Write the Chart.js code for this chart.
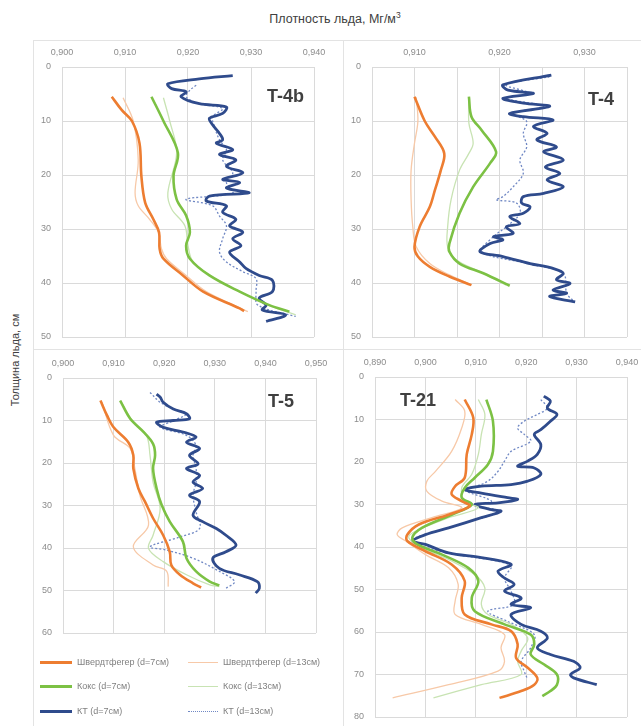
<!DOCTYPE html>
<html lang="ru">
<head>
<meta charset="UTF-8">
<title>Плотность льда</title>
<script src="https://cdn.jsdelivr.net/npm/chart.js"></script>
<style>
  body { margin: 0; background: #fff; font-family: "Liberation Sans", Arial, sans-serif; }
  #wrap { position: relative; width: 641px; height: 726px; overflow: hidden; background: #fff; }
  .box { position: absolute; border-left: 1px solid #e3e3e3; border-top: 1px solid #e3e3e3; box-sizing: border-box; }
  canvas { position: absolute; }
  .title { position: absolute; left: 0; width: 670px; top: 10px; text-align: center; font-size: 12.5px; color: #404040; }
  .title sup { font-size: 8.5px; }
  .ytitle { position: absolute; left: 15px; top: 360px; transform: translate(-50%, -50%) rotate(-90deg); white-space: nowrap; font-size: 11px; color: #404040; }
  .plab { position: absolute; font-weight: bold; font-size: 18px; color: #404040; }
  .leg { position: absolute; font-size: 9px; color: #808080; white-space: nowrap; }
</style>
</head>
<body>
<div id="wrap">
  <div class="box" style="left:33px;top:40px;width:310px;height:309px"></div>
  <div class="box" style="left:343px;top:40px;width:298px;height:309px"></div>
  <div class="box" style="left:33px;top:349px;width:310px;height:377px"></div>
  <div class="box" style="left:343px;top:349px;width:298px;height:377px"></div>

  <div class="title">Плотность льда, Мг/м<sup>3</sup></div>
  <div class="ytitle">Толщина льда, см</div>

  <canvas id="c1" width="310" height="309" style="left:33px;top:40px"></canvas>
  <canvas id="c2" width="298" height="309" style="left:343px;top:40px"></canvas>
  <canvas id="c3" width="310" height="377" style="left:33px;top:349px"></canvas>
  <canvas id="c4" width="298" height="377" style="left:343px;top:349px"></canvas>

  <div class="plab" style="left:267px;top:86px">T-4b</div>
  <div class="plab" style="left:588px;top:89px">T-4</div>
  <div class="plab" style="left:268px;top:391px">T-5</div>
  <div class="plab" style="left:400px;top:390px">T-21</div>

  <div id="legend"></div>
</div>

<script>
// series: [depth, density]
const seriesNames = ['Швердтфегер (d=7см)', 'Швердтфегер (d=13см)', 'Кокс (d=7см)', 'Кокс (d=13см)', 'КТ (d=7см)', 'КТ (d=13см)'];

// T-4b
const t4b_shv7 = [[5.5,0.9079],[8.0,0.9095],[10.0,0.9111],[14.1,0.9123],[20.2,0.9126],[25.1,0.9132],[28.2,0.9145],[30.6,0.9154],[33.7,0.9155],[35.5,0.9161],[38.6,0.9192],[41.6,0.9224],[44.7,0.9282],[45.2,0.9289]];
const t4b_shv13 = [[5.7,0.9097],[10.0,0.9113],[17.2,0.9121],[23.3,0.9116],[25.7,0.9121],[28.2,0.9139],[30.6,0.9153],[33.7,0.9158],[35.5,0.9166],[38.6,0.9197],[41.6,0.9229],[44.6,0.9282],[45.3,0.9295]];
const t4b_kok7 = [[5.5,0.9142],[10.0,0.9161],[15.9,0.9184],[20.2,0.9177],[24.5,0.9182],[27.5,0.9197],[30.6,0.9203],[33.1,0.9197],[35.5,0.9203],[38.6,0.9234],[41.6,0.9282],[44.1,0.9329],[45.3,0.9361]];
const t4b_kok13 = [[5.7,0.9161],[10.0,0.9171],[15.9,0.9182],[23.3,0.9168],[26.3,0.9174],[29.4,0.9195],[33.1,0.9200],[36.1,0.9208],[38.9,0.9239],[41.9,0.9287],[44.4,0.9334],[45.9,0.9371]];
const t4b_kt7 = [[1.6,0.9271],[2.2,0.9218],[3.1,0.9168],[4.0,0.9174],[4.6,0.9197],[5.5,0.9189],[6.8,0.9218],[7.4,0.9261],[8.6,0.9255],[9.5,0.9234],[10.7,0.9239],[12.3,0.9250],[13.5,0.9255],[14.1,0.9245],[15.3,0.9271],[16.2,0.9250],[17.2,0.9276],[18.4,0.9261],[19.6,0.9287],[20.8,0.9255],[21.4,0.9282],[22.4,0.9261],[23.3,0.9297],[23.9,0.9234],[24.8,0.9229],[25.7,0.9261],[26.9,0.9255],[28.2,0.9276],[29.4,0.9266],[30.6,0.9287],[31.8,0.9271],[33.1,0.9284],[34.3,0.9266],[36.1,0.9282],[37.3,0.9292],[38.6,0.9313],[39.5,0.9334],[41.6,0.9334],[42.8,0.9313],[44.1,0.9324],[45.0,0.9318],[45.9,0.9355],[47.1,0.9324]];
const t4b_kt13 = [[3.4,0.9213],[4.3,0.9203],[5.5,0.9197],[6.8,0.9218],[7.7,0.9255],[9.2,0.9239],[11.0,0.9242],[13.5,0.9250],[15.3,0.9261],[17.2,0.9255],[19.6,0.9271],[21.4,0.9261],[23.3,0.9271],[24.5,0.9197],[25.7,0.9239],[27.6,0.9250],[29.4,0.9261],[31.8,0.9255],[34.3,0.9250],[36.1,0.9261],[37.9,0.9287],[39.2,0.9308],[41.6,0.9308],[44.1,0.9311],[46.2,0.9371]];

// T-4
const t4_shv7 = [[5.5,0.9100],[10.0,0.9112],[12.9,0.9124],[16.0,0.9135],[19.1,0.9131],[22.8,0.9124],[25.9,0.9118],[29.6,0.9106],[33.3,0.9100],[35.1,0.9104],[37.0,0.9118],[38.8,0.9141],[40.4,0.9167]];
const t4_shv13 = [[5.6,0.9102],[10.0,0.9104],[14.1,0.9100],[19.1,0.9096],[24.6,0.9096],[29.6,0.9098],[33.3,0.9102],[36.4,0.9118],[38.5,0.9141],[40.2,0.9165]];
const t4_kok7 = [[5.5,0.9164],[9.2,0.9167],[11.7,0.9179],[15.7,0.9196],[17.8,0.9189],[22.2,0.9169],[27.1,0.9153],[32.7,0.9141],[34.2,0.9141],[36.4,0.9153],[38.2,0.9181],[40.5,0.9212]];
const t4_kok13 = [[5.6,0.9164],[10.4,0.9164],[14.1,0.9169],[16.0,0.9164],[19.1,0.9153],[24.6,0.9143],[29.6,0.9139],[33.3,0.9139],[35.7,0.9149],[37.9,0.9177],[40.4,0.9208]];
const t4_kt7 = [[1.5,0.9261],[3.3,0.9204],[4.3,0.9210],[4.9,0.9240],[5.8,0.9204],[6.7,0.9228],[7.3,0.9259],[8.6,0.9212],[9.2,0.9228],[9.8,0.9263],[11.0,0.9240],[12.3,0.9256],[13.5,0.9244],[14.8,0.9267],[15.7,0.9252],[17.2,0.9275],[18.5,0.9254],[19.7,0.9271],[20.9,0.9256],[22.2,0.9275],[23.4,0.9252],[24.0,0.9228],[25.2,0.9226],[25.9,0.9236],[27.1,0.9228],[27.7,0.9212],[29.0,0.9224],[29.6,0.9208],[30.8,0.9216],[31.4,0.9193],[32.0,0.9204],[32.7,0.9189],[34.2,0.9177],[35.1,0.9204],[36.4,0.9236],[37.3,0.9263],[38.2,0.9275],[39.4,0.9267],[40.1,0.9283],[41.3,0.9263],[41.9,0.9279],[42.5,0.9259],[43.5,0.9289]];
const t4_kt13 = [[1.8,0.9259],[3.3,0.9208],[4.9,0.9236],[5.8,0.9208],[7.3,0.9252],[8.6,0.9216],[10.1,0.9232],[12.3,0.9228],[14.8,0.9232],[17.2,0.9224],[19.7,0.9228],[22.2,0.9216],[24.0,0.9204],[24.6,0.9196],[25.2,0.9220],[27.1,0.9224],[29.6,0.9208],[31.4,0.9193],[34.2,0.9179],[36.5,0.9236],[38.3,0.9275],[41.9,0.9279],[43.3,0.9287]];

// T-5
const t5_shv7 = [[5.3,0.9074],[8.8,0.9087],[11.6,0.9100],[15.1,0.9129],[18.2,0.9139],[21.3,0.9139],[26.0,0.9149],[29.1,0.9162],[33.0,0.9178],[37.0,0.9198],[40.9,0.9211],[44.0,0.9214],[46.3,0.9231],[48.3,0.9257],[49.3,0.9273]];
const t5_shv13 = [[5.7,0.9077],[13.5,0.9100],[16.6,0.9133],[21.3,0.9142],[27.6,0.9152],[34.6,0.9169],[39.7,0.9139],[44.0,0.9178],[45.5,0.9205],[49.1,0.9208]];
const t5_kok7 = [[5.3,0.9113],[9.6,0.9133],[12.7,0.9159],[15.5,0.9178],[18.2,0.9182],[21.3,0.9178],[26.0,0.9185],[29.9,0.9195],[33.8,0.9211],[38.5,0.9237],[42.4,0.9244],[45.5,0.9263],[47.9,0.9290],[48.8,0.9309]];
const t5_kok13 = [[5.3,0.9113],[10.4,0.9139],[13.5,0.9165],[18.2,0.9172],[24.5,0.9178],[30.7,0.9192],[37.0,0.9178],[40.1,0.9169],[43.2,0.9198],[46.3,0.9244],[48.7,0.9290],[49.1,0.9309]];
const t5_kt7 = [[3.8,0.9185],[4.5,0.9192],[5.7,0.9198],[7.3,0.9218],[8.4,0.9244],[9.6,0.9250],[10.0,0.9218],[10.4,0.9185],[11.6,0.9198],[12.7,0.9237],[13.9,0.9263],[15.1,0.9244],[16.6,0.9270],[18.2,0.9250],[20.2,0.9267],[21.3,0.9244],[22.9,0.9270],[24.5,0.9257],[26.0,0.9276],[27.6,0.9250],[29.1,0.9270],[32.3,0.9257],[33.8,0.9276],[35.4,0.9303],[37.0,0.9322],[39.3,0.9342],[40.9,0.9322],[42.4,0.9296],[44.8,0.9309],[46.3,0.9348],[47.9,0.9384],[49.5,0.9388],[50.6,0.9381]];
const t5_kt13 = [[3.4,0.9172],[5.7,0.9192],[7.3,0.9218],[8.4,0.9244],[10.4,0.9211],[11.6,0.9192],[13.5,0.9244],[15.9,0.9263],[18.2,0.9257],[21.3,0.9263],[24.5,0.9263],[27.6,0.9257],[31.5,0.9263],[35.4,0.9270],[37.4,0.9231],[39.7,0.9172],[40.5,0.9205],[42.4,0.9257],[45.5,0.9309],[47.9,0.9339],[49.5,0.9322]];

// T-21
const t21_shv7 = [[5.3,0.9078],[9.6,0.9095],[13.5,0.9092],[18.2,0.9082],[23.7,0.9078],[25.7,0.9059],[27.6,0.9052],[29.2,0.9072],[30.4,0.9088],[32.4,0.9046],[34.7,0.8987],[37.1,0.8964],[38.6,0.8964],[41.0,0.9000],[44.1,0.9052],[48.0,0.9078],[52.0,0.9072],[55.9,0.9078],[58.2,0.9131],[59.8,0.9170],[62.9,0.9183],[66.1,0.9180],[68.4,0.9203],[70.8,0.9222],[72.4,0.9216],[73.9,0.9190],[75.5,0.9147]];
const t21_shv13 = [[5.3,0.9059],[8.0,0.9078],[12.0,0.9072],[17.5,0.9052],[22.2,0.9020],[24.5,0.9003],[26.9,0.9003],[29.2,0.9033],[30.8,0.9072],[33.1,0.9013],[35.5,0.8954],[37.1,0.8944],[38.6,0.8961],[41.8,0.9000],[44.9,0.9046],[48.8,0.9065],[52.7,0.9059],[55.9,0.9059],[58.2,0.9111],[60.6,0.9157],[63.7,0.9150],[66.9,0.9157],[69.2,0.9144],[72.4,0.9046],[75.5,0.8935]];
const t21_kok7 = [[5.3,0.9121],[10.4,0.9134],[17.5,0.9134],[20.6,0.9124],[23.7,0.9098],[26.1,0.9078],[28.4,0.9072],[30.0,0.9092],[32.4,0.9052],[35.5,0.8993],[37.8,0.8974],[39.4,0.8984],[41.8,0.9033],[44.9,0.9085],[48.0,0.9105],[52.0,0.9092],[55.1,0.9098],[58.2,0.9157],[60.6,0.9209],[62.9,0.9216],[65.3,0.9209],[67.6,0.9235],[70.0,0.9261],[72.4,0.9261],[73.9,0.9248],[75.1,0.9232]];
const t21_kok13 = [[5.3,0.9105],[8.8,0.9118],[13.5,0.9111],[18.2,0.9105],[22.9,0.9092],[26.1,0.9072],[29.2,0.9078],[30.8,0.9105],[33.1,0.9046],[36.3,0.8980],[37.8,0.8967],[40.2,0.8993],[43.3,0.9052],[46.5,0.9098],[49.6,0.9118],[53.5,0.9111],[55.9,0.9124],[58.2,0.9170],[61.4,0.9203],[64.5,0.9190],[66.9,0.9183],[70.0,0.9190],[72.4,0.9111],[75.5,0.9016]];
const t21_kt7 = [[4.5,0.9235],[5.7,0.9248],[7.3,0.9242],[8.8,0.9261],[10.4,0.9248],[12.4,0.9229],[13.5,0.9216],[15.9,0.9229],[18.2,0.9222],[19.8,0.9203],[21.0,0.9183],[21.4,0.9216],[22.9,0.9229],[24.5,0.9203],[25.3,0.9170],[25.7,0.9111],[26.5,0.9078],[27.3,0.9111],[28.4,0.9163],[28.8,0.9183],[29.6,0.9144],[30.0,0.9098],[31.2,0.9131],[31.6,0.9150],[33.1,0.9111],[35.5,0.9046],[37.1,0.9000],[38.6,0.8974],[39.4,0.9000],[41.4,0.9046],[42.5,0.9111],[44.1,0.9170],[45.7,0.9144],[47.3,0.9157],[48.8,0.9176],[50.4,0.9157],[52.0,0.9190],[53.5,0.9170],[54.3,0.9209],[55.9,0.9170],[58.2,0.9190],[59.8,0.9229],[61.4,0.9242],[63.7,0.9222],[65.3,0.9248],[66.9,0.9294],[68.4,0.9307],[70.0,0.9288],[70.8,0.9294],[72.4,0.9340]];
const t21_kt13 = [[5.3,0.9229],[7.3,0.9242],[8.8,0.9222],[10.4,0.9196],[12.0,0.9183],[13.5,0.9196],[15.1,0.9209],[17.5,0.9170],[19.8,0.9157],[22.2,0.9144],[24.5,0.9124],[26.1,0.9092],[26.7,0.9078],[29.2,0.9131],[30.2,0.9098],[31.6,0.9144],[35.5,0.9046],[38.5,0.8974],[41.4,0.9046],[44.3,0.9170],[47.3,0.9157],[50.4,0.9170],[53.5,0.9176],[55.1,0.9124],[57.5,0.9163],[60.6,0.9216],[63.7,0.9209],[66.9,0.9190],[69.2,0.9196],[71.2,0.9203]];

// line styles per series
const seriesColors = ['#ed7d31', '#f7c9a8', '#7cc144', '#c8e3b3', '#2f4b8c', '#7088c4'];
const seriesWidths = [2.6, 1.3, 2.6, 1.3, 2.8, 1.3];
const seriesDash = [[], [], [], [], [], [2, 2]];

const gridColor = '#dadada';
const fmt = v => v.toFixed(3).replace('.', ',');

function panel(id, sets, xr, yMax, box, everyOther) {
  return new Chart(document.getElementById(id), {
    type: 'scatter',
    data: {
      datasets: sets.map((s, i) => ({
        label: seriesNames[i],
        data: s.map(p => ({ x: p[1], y: p[0] })),
        showLine: true,
        borderColor: seriesColors[i],
        borderWidth: seriesWidths[i],
        borderDash: seriesDash[i],
        pointRadius: 0,
        tension: 0.35,
        fill: false
      }))
    },
    options: {
      responsive: false,
      animation: false,
      layout: { padding: { left: 0, top: 0, right: box.r, bottom: box.b } },
      plugins: { legend: { display: false }, tooltip: { enabled: false } },
      scales: {
        x: {
          type: 'linear', position: 'top', min: xr[0], max: xr[1],
          ticks: {
            stepSize: xr[2], autoSkip: false, maxRotation: 0, padding: 9,
            color: '#8c8c8c', font: { size: 9, family: 'Liberation Sans' },
            callback: v => (everyOther && Math.round(v * 1000) % 10 !== 0) ? '' : fmt(v)
          },
          grid: { color: gridColor, drawTicks: false },
          border: { color: gridColor },
          afterFit: s => { s.height = box.t; s.paddingLeft = 0; s.paddingRight = 0; }
        },
        y: {
          type: 'linear', reverse: true, min: 0, max: yMax,
          ticks: {
            stepSize: 10, padding: 11,
            color: '#8c8c8c', font: { size: 9, family: 'Liberation Sans' }
          },
          grid: { color: gridColor, drawTicks: false },
          border: { color: gridColor },
          afterFit: s => { s.width = box.l; s.paddingTop = 0; s.paddingBottom = 0; }
        }
      }
    }
  });
}

panel('c1', [t4b_shv7, t4b_shv13, t4b_kok7, t4b_kok13, t4b_kt7, t4b_kt13], [0.900, 0.940, 0.010], 50, { l: 29, t: 27, r: 29, b: 12 }, false);
panel('c2', [t4_shv7, t4_shv13, t4_kok7, t4_kok13, t4_kt7, t4_kt13], [0.905, 0.935, 0.005], 50, { l: 29, t: 27, r: 14, b: 12 }, true);
panel('c3', [t5_shv7, t5_shv13, t5_kok7, t5_kok13, t5_kt7, t5_kt13], [0.900, 0.950, 0.010], 60, { l: 30, t: 29, r: 27, b: 93 }, false);
panel('c4', [t21_shv7, t21_shv13, t21_kok7, t21_kok13, t21_kt7, t21_kt13], [0.890, 0.940, 0.010], 80, { l: 32, t: 28, r: 14, b: 9 }, false);

// legend under T-5
const legendPos = [[40, 657], [188, 657], [40, 681], [188, 681], [40, 706], [188, 706]];
const legend = document.getElementById('legend');
seriesNames.forEach((name, i) => {
  const d = document.createElement('div');
  d.className = 'leg';
  d.style.left = legendPos[i][0] + 'px';
  d.style.top = legendPos[i][1] + 'px';
  const w = i % 2 === 0 ? 32 : 30;
  const lw = Math.round(seriesWidths[i]);
  const style = i === 5 ? 'dotted' : 'solid';
  d.innerHTML = '<span style="display:inline-block;width:' + w + 'px;height:0;border-top:' + lw + 'px ' + style + ' ' + seriesColors[i] + ';vertical-align:middle;margin-right:5px"></span>' + name;
  legend.appendChild(d);
});
</script>
</body>
</html>
